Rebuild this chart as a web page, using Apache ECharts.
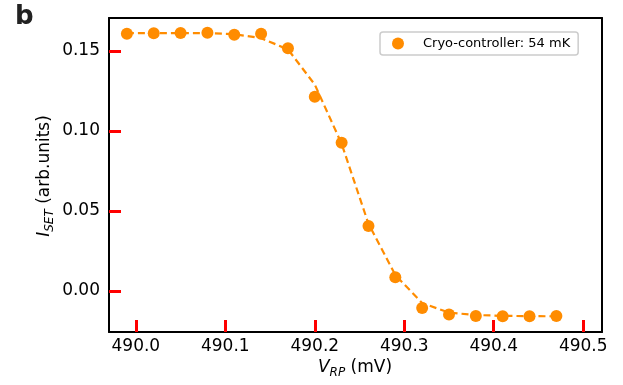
<!DOCTYPE html>
<html>
<head>
<meta charset="utf-8">
<script src="https://cdn.jsdelivr.net/npm/echarts@6/dist/echarts.min.js"></script>
<style>
  html, body { margin: 0; padding: 0; background: #fff; }
  #chart { width: 623px; height: 385px; }
</style>
</head>
<body>
<div id="chart"></div>
<script>
// gate voltage V_RP (mV) of each measured point
const vRp = [489.99, 490.02, 490.05, 490.08, 490.11, 490.14, 490.17, 490.20, 490.23,
  490.26, 490.29, 490.32, 490.35, 490.38, 490.41, 490.44, 490.47]
// measured I_SET (arb.units)
const iSet = [0.1608, 0.1611, 0.1613, 0.1614, 0.1602, 0.1608, 0.1517, 0.1214, 0.0927,
  0.0406, 0.0086, -0.0106, -0.0146, -0.0156, -0.0158, -0.0158, -0.0156]
// fitted curve (dashed), read at the same voltages
const iFit = [0.1612, 0.1612, 0.1612, 0.1611, 0.1605, 0.1580, 0.1510, 0.1290, 0.0920,
  0.0420, 0.0100, -0.0075, -0.0135, -0.0150, -0.0155, -0.0157, -0.0158]
const xTicks = [490.0, 490.1, 490.2, 490.3, 490.4, 490.5]
const yTicks = [0.00, 0.05, 0.10, 0.15]
const seriesName = 'Cryo-controller: 54 mK'

const orange = '#ff8c00'
const font = 'DejaVu Sans'
const xMin = 489.97, xMax = 490.521
const yMin = -0.0256, yMax = 0.1706

let chart = echarts.init(document.getElementById('chart'))

const option = {
  animation: false,
  grid: { left: 109, right: 21, top: 18, bottom: 53 },
  legend: {
    data: [seriesName],
    left: 380, top: 32,
    padding: [5, 8, 5, 12],
    itemWidth: 12, itemHeight: 12,
    icon: 'circle',
    borderColor: '#cccccc', borderWidth: 1.5, borderRadius: 3,
    textStyle: { fontFamily: font, fontSize: 13, color: '#000', padding: [0, 0, 0, 14] }
  },
  xAxis: [
    {
      type: 'value',
      min: xMin, max: xMax,
      axisLine: { onZero: false, lineStyle: { color: '#000', width: 2 } },
      splitLine: { show: false },
      axisTick: {
        show: true, inside: true, length: 12, customValues: xTicks,
        lineStyle: { color: '#f00', width: 3 }
      },
      axisLabel: {
        customValues: xTicks, margin: 6, color: '#000',
        fontFamily: font, fontSize: 17,
        formatter: v => v.toFixed(1)
      }
    },
    {
      type: 'value', position: 'top', min: xMin, max: xMax,
      axisLine: { show: true, onZero: false, lineStyle: { color: '#000', width: 2 } },
      axisTick: { show: false }, axisLabel: { show: false }, splitLine: { show: false }
    }
  ],
  yAxis: [
    {
      type: 'value',
      min: yMin, max: yMax,
      axisLine: { show: true, onZero: false, lineStyle: { color: '#000', width: 2 } },
      splitLine: { show: false },
      axisTick: {
        show: true, inside: true, length: 12, customValues: yTicks,
        lineStyle: { color: '#f00', width: 3 }
      },
      axisLabel: {
        customValues: yTicks, margin: 9, color: '#000',
        fontFamily: font, fontSize: 17,
        formatter: v => v.toFixed(2)
      }
    },
    {
      type: 'value', position: 'right', min: yMin, max: yMax,
      axisLine: { show: true, onZero: false, lineStyle: { color: '#000', width: 2 } },
      axisTick: { show: false }, axisLabel: { show: false }, splitLine: { show: false }
    }
  ],
  graphic: [
    {
      type: 'text', left: 15, top: 4,
      style: { text: 'b', fontFamily: font, fontWeight: 'bold', fontSize: 26, fill: '#222' }
    },
    {
      type: 'text', x: 355, y: 368,
      style: {
        text: '{i|V}{s|RP}{n| (mV)}', align: 'center', verticalAlign: 'middle',
        rich: {
          i: { fontFamily: font, fontStyle: 'italic', fontSize: 17, fill: '#000' },
          s: { fontFamily: font, fontStyle: 'italic', fontSize: 12, fill: '#000', padding: [10, 0, 0, 0] },
          n: { fontFamily: font, fontSize: 17, fill: '#000' }
        }
      }
    },
    {
      type: 'text', x: 45, y: 176, rotation: Math.PI / 2,
      style: {
        text: '{i|I}{s|SET}{n| (arb.units)}', align: 'center', verticalAlign: 'middle',
        rich: {
          i: { fontFamily: font, fontStyle: 'italic', fontSize: 17, fill: '#000' },
          s: { fontFamily: font, fontStyle: 'italic', fontSize: 12, fill: '#000', padding: [10, 0, 0, 0] },
          n: { fontFamily: font, fontSize: 17, fill: '#000' }
        }
      }
    }
  ],
  series: [
    {
      name: 'fit',
      type: 'line',
      data: vRp.map((x, i) => [x, iFit[i]]),
      showSymbol: false,
      symbol: 'none',
      lineStyle: { color: orange, width: 2.2, type: [7, 4] },
      z: 2
    },
    {
      name: seriesName,
      type: 'scatter',
      data: vRp.map((x, i) => [x, iSet[i]]),
      symbol: 'circle',
      symbolSize: 12,
      itemStyle: { color: orange, opacity: 1 },
      z: 3
    }
  ]
}
chart.setOption(option)
</script>
</body>
</html>
